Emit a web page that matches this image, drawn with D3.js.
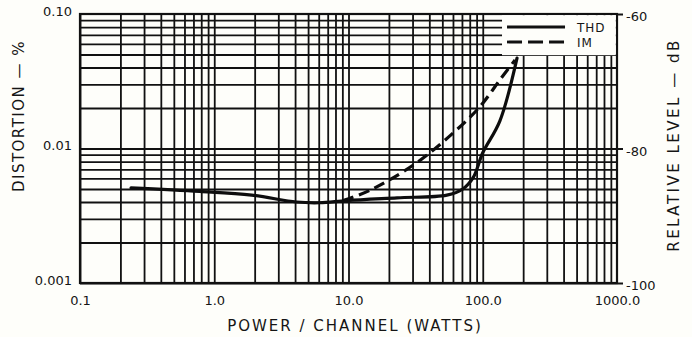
<!DOCTYPE html>
<html>
<head>
<meta charset="utf-8">
<script src="https://cdn.jsdelivr.net/npm/d3@7"></script>
<style>
  body { margin: 0; background: #fefefa; }
  svg { display: block; }
  text { font-family: "DejaVu Sans", sans-serif; fill: #151515; }
</style>
</head>
<body>
<svg id="chart"></svg>
<script>
// tick labels
const xTicks = [0.1, 1, 10, 100, 1000];
const xTickLabels = ['0.1', '1.0', '10.0', '100.0', '1000.0'];
const yTicks = [0.001, 0.01, 0.1];
const yTickLabels = ['0.001', '0.01', '0.10'];
const dbTicks = [-100, -80, -60];
const dbTickLabels = ['-100', '-80', '-60'];

// THD curve (watts, %)
const thdPower = [0.24, 0.78, 1.9, 4.1, 6.1, 9.7, 23, 54, 71, 85, 100, 134, 180];
const thdDist  = [0.0051, 0.0048, 0.0045, 0.0040, 0.00395, 0.0041, 0.0043, 0.0045, 0.0050, 0.0061, 0.0093, 0.0160, 0.047];

// IM curve (watts, %)
const imPower = [9.1, 14.5, 32, 60, 95, 134, 174];
const imDist  = [0.0041, 0.0049, 0.0078, 0.013, 0.0204, 0.0323, 0.0455];

const W = 692, H = 337;
const margin = { top: 14, right: 75, bottom: 54, left: 80 };
const width = W - margin.left - margin.right;
const height = H - margin.top - margin.bottom;

const svg = d3.select('#chart').attr('width', W).attr('height', H);
const chart = svg.append('g').attr('transform', `translate(${margin.left},${margin.top})`);

const xScale = d3.scaleLog().domain([0.1, 1000]).range([0, width]);
const yScale = d3.scaleLog().domain([0.001, 0.1]).range([height, 0]);
const dbScale = d3.scaleLinear().domain([-100, -60]).range([height, 0]);

// minor grid values 1..9 per decade
const gridX = [];
for (let d = 0.1; d < 1000; d *= 10) for (let m = 1; m < 10; m++) gridX.push(+(d * m).toPrecision(3));
const gridY = [];
for (let d = 0.001; d < 0.1; d *= 10) for (let m = 1; m < 10; m++) gridY.push(+(d * m).toPrecision(3));

// grid
chart.append('g')
  .call(d3.axisBottom(xScale).tickValues(gridX).tickSize(height).tickFormat(''))
  .call(g => g.select('.domain').remove())
  .selectAll('line').attr('stroke', '#111').attr('stroke-width', 1.8);

chart.append('g')
  .call(d3.axisRight(yScale).tickValues(gridY).tickSize(width).tickFormat(''))
  .call(g => g.select('.domain').remove())
  .selectAll('line').attr('stroke', '#111').attr('stroke-width', 1.8);

// frame
chart.append('rect')
  .attr('width', width).attr('height', height)
  .attr('fill', 'none').attr('stroke', '#111').attr('stroke-width', 2.2);

// legend box (covers grid)
const legendX = xScale(180) - 15;
const legend = chart.append('g').attr('transform', `translate(${legendX},0)`);
legend.append('rect')
  .attr('x', 0).attr('y', 1.2).attr('width', width - legendX - 1.2).attr('height', 40)
  .attr('fill', '#fefefa');
legend.append('line')
  .attr('x1', 5).attr('x2', 63).attr('y1', 13).attr('y2', 13)
  .attr('stroke', '#111').attr('stroke-width', 2.8);
legend.append('line')
  .attr('x1', 5).attr('x2', 63).attr('y1', 28).attr('y2', 28)
  .attr('stroke', '#111').attr('stroke-width', 2.8).attr('stroke-dasharray', '15,6');
legend.append('text').attr('x', 75).attr('y', 18).style('font-size', '12px').style('letter-spacing', '1px').text('THD');
legend.append('text').attr('x', 75).attr('y', 33).style('font-size', '12px').style('letter-spacing', '1px').text('IM');

// curves
const line = d3.line()
  .x(d => xScale(d[0]))
  .y(d => yScale(d[1]))
  .curve(d3.curveCatmullRom.alpha(0.5));

chart.append('path')
  .attr('d', line(d3.zip(thdPower, thdDist)))
  .attr('fill', 'none').attr('stroke', '#0d0d0d').attr('stroke-width', 3.2)
  .attr('stroke-linecap', 'round');

chart.append('path')
  .attr('d', line(d3.zip(imPower, imDist)))
  .attr('fill', 'none').attr('stroke', '#0d0d0d').attr('stroke-width', 3.2)
  .attr('stroke-dasharray', '11,6');

// axes labels
const xAxisG = chart.append('g').attr('transform', `translate(0,${height})`)
  .call(d3.axisBottom(xScale).tickValues(xTicks).tickSize(0).tickPadding(13)
    .tickFormat((d, i) => xTickLabels[i]));
xAxisG.select('.domain').remove();
xAxisG.selectAll('text').style('font-size', '13px').attr('fill', '#151515').attr('font-family', null);

const yAxisG = chart.append('g')
  .call(d3.axisLeft(yScale).tickValues(yTicks).tickSize(0).tickPadding(8)
    .tickFormat((d, i) => yTickLabels[i]));
yAxisG.select('.domain').remove();
yAxisG.selectAll('text').style('font-size', '13px').attr('fill', '#151515').attr('font-family', null)
  .attr('dy', '0.1em');

const dbAxisG = chart.append('g').attr('transform', `translate(${width},0)`)
  .call(d3.axisRight(dbScale).tickValues(dbTicks).tickSize(0).tickPadding(9)
    .tickFormat((d, i) => dbTickLabels[i]));
dbAxisG.select('.domain').remove();
dbAxisG.selectAll('text').style('font-size', '13px').attr('fill', '#151515').attr('font-family', null)
  .attr('dy', '0.5em');

// small tick dashes on the right edge
dbAxisG.selectAll('.tick').append('line')
  .attr('x1', 0).attr('x2', 6).attr('stroke', '#151515').attr('stroke-width', 2);

// axis titles
svg.append('text')
  .attr('transform', `translate(24,116) rotate(-90)`)
  .attr('text-anchor', 'middle')
  .style('font-size', '15px').style('letter-spacing', '1.5px')
  .text('DISTORTION — %');

svg.append('text')
  .attr('transform', `translate(679,145) rotate(-90)`)
  .attr('text-anchor', 'middle')
  .style('font-size', '15px').style('letter-spacing', '2.5px')
  .text('RELATIVE LEVEL — dB');

svg.append('text')
  .attr('x', 355).attr('y', 331)
  .attr('text-anchor', 'middle')
  .style('font-size', '15px').style('letter-spacing', '2px')
  .text('POWER / CHANNEL (WATTS)');
</script>
</body>
</html>
